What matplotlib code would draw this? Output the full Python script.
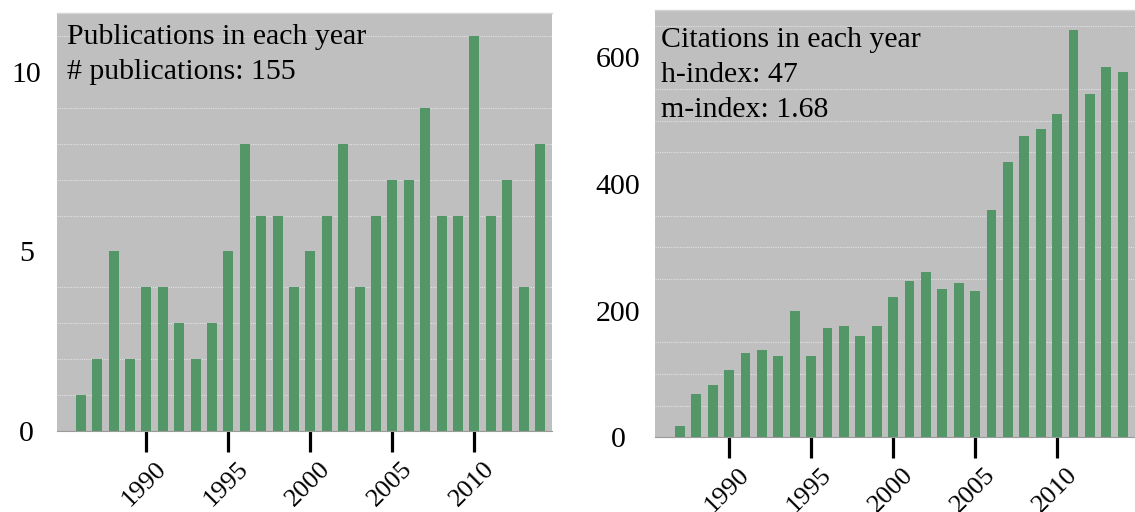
import matplotlib
matplotlib.use("Agg")
import matplotlib.pyplot as plt
from matplotlib.ticker import MultipleLocator, FixedLocator
from matplotlib.transforms import ScaledTranslation

# ---- data ----
pub_years = list(range(1986, 2015))
publications = [1, 2, 5, 2, 4, 4, 3, 2, 3, 5, 8, 6, 6, 4, 5, 6, 8, 4, 6, 7,
                7, 9, 6, 6, 11, 6, 7, 4, 8]
cit_years = list(range(1987, 2015))
citations = [18, 68, 82, 106, 133, 138, 128, 200, 128, 172, 176, 160, 176, 222,
             247, 261, 234, 244, 231, 359, 435, 476, 487, 510, 644, 542, 585, 577]
year_ticks = [1990, 1995, 2000, 2005, 2010]
pub_yticks = [0, 5, 10]
cit_yticks = [0, 200, 400, 600]
pub_text = ["Publications in each year", "# publications: 155"]
cit_text = ["Citations in each year", "h-index: 47", "m-index: 1.68"]

plt.rcParams['font.family'] = ['Liberation Serif', 'DejaVu Serif']
FS = 21.5
XFS = 19
BG = '#bfbfbf'
BAR = '#539768'

W, H = 1135, 512
fig = plt.figure(figsize=(W / 100, H / 100), dpi=100)


def px_axes(x0, top, w, bottom):
    return fig.add_axes([x0 / W, 1 - bottom / H, w / W, (bottom - top) / H])


def style(ax, ymax, grid_step, yticks, ypad):
    ax.set_facecolor(BG)
    ax.set_ylim(0, ymax)
    ax.yaxis.set_major_locator(FixedLocator(yticks))
    ax.yaxis.set_minor_locator(MultipleLocator(grid_step))
    ax.grid(which='minor', axis='y', color='white', lw=0.8,
            linestyle=(0, (1, 1)), alpha=0.55)
    ax.set_axisbelow(True)
    for s in ax.spines.values():
        s.set_visible(False)
    ax.spines['bottom'].set_visible(True)
    ax.spines['bottom'].set_color('#9a9a9a')
    ax.spines['bottom'].set_linewidth(0.8)
    ax.spines['top'].set_visible(True)
    ax.spines['top'].set_color('#d4d4d4')
    ax.spines['top'].set_linewidth(1.0)
    ax.tick_params(axis='y', which='both', length=0, pad=ypad, labelsize=FS)
    for lab in ax.get_yticklabels():
        lab.set_horizontalalignment('center')
    ax.set_xticks(year_ticks)
    ax.set_xticklabels([str(y) for y in year_ticks], rotation=45,
                       ha='right', va='top', rotation_mode='anchor',
                       fontsize=XFS)
    ax.tick_params(axis='x', which='major', length=15, width=2.3,
                   color='black', direction='out', pad=4)
    ax.tick_params(axis='x', which='minor', length=0)
    shift = ScaledTranslation(9 / 100, 0, fig.dpi_scale_trans)
    for lab in ax.get_xticklabels():
        lab.set_transform(lab.get_transform() + shift)


# left panel
ax1 = px_axes(57, 12.7, 495, 431)
ax1.bar(pub_years, publications, width=0.6, color=BAR, zorder=2)
ax1.set_xlim(1984.55, 2014.73)
style(ax1, 11.65, 1, pub_yticks, 22)
y0 = [0.924, 0.8415]
for t, y in zip(pub_text, y0):
    ax1.text(0.0202, y, t, transform=ax1.transAxes, fontsize=FS,
             va='baseline', ha='left', zorder=5)

# right panel (extends beyond the figure edge, as in the reference)
ax2 = px_axes(655, 10, 495, 437.4)
ax2.bar(cit_years, citations, width=0.6, color=BAR, zorder=2)
ax2.set_xlim(1985.48, 2015.66)
style(ax2, 675, 50, cit_yticks, 26.5)
y1 = [0.914, 0.8322, 0.7497]
for t, y in zip(cit_text, y1):
    ax2.text(0.0121, y, t, transform=ax2.transAxes, fontsize=FS,
             va='baseline', ha='left', zorder=5)

fig.savefig('out.png', dpi=100)
